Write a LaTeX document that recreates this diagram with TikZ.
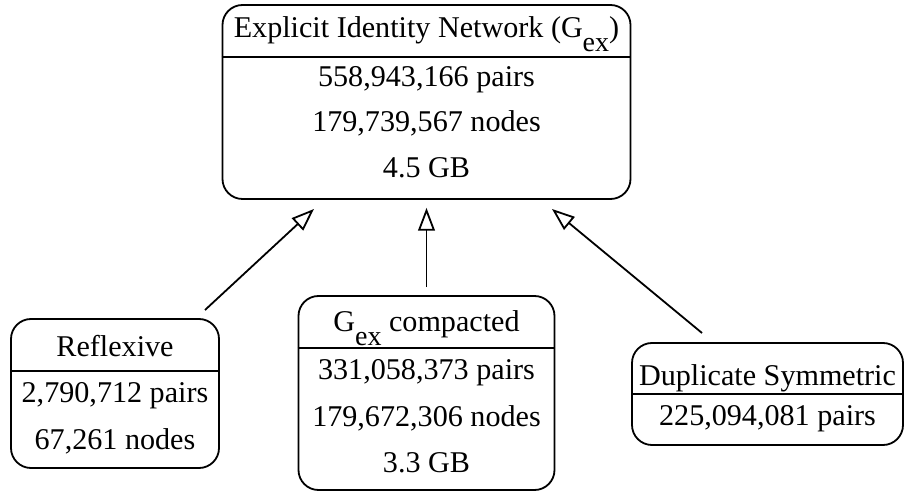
\documentclass[tikz,border=0pt]{standalone}
\usepackage{fontspec}
\IfFontExistsTF{LiberationSerif-Regular.ttf}
  {\newfontfamily\tnr{LiberationSerif-Regular.ttf}}
  {\newfontfamily\tnr{Liberation Serif}}
\usetikzlibrary{arrows.meta}

\newcommand{\subtxt}[1]{\raisebox{-10.5pt}{\fontsize{21}{21}\selectfont #1}}

\begin{document}
\begin{tikzpicture}[x=0.75pt, y=-0.75pt,
		tabla/.style = {draw, line width=1.35pt, rounded corners=15pt},
		texto/.style = {anchor=base, inner sep=0pt, font=\tnr\fontsize{22.6}{27}\selectfont},
		flecha/.style = {line width=1.35pt, -{Triangle[open, length=17pt, width=12.5pt]}}]
		\useasboundingbox (0,0) rectangle (904,491);
		
		\node[tabla, minimum width=306pt, minimum height=145.5pt] (Gex) at (426.5,102) {};
		\node[tabla, minimum width=156pt, minimum height=111.75pt] (Refl) at (115,393.5) {};
		\node[tabla, minimum width=192pt, minimum height=145.5pt] (Comp) at (426.5,393) {};
		\node[tabla, minimum width=203.25pt, minimum height=76.5pt] (Dup) at (767.5,394) {};
		
		\draw[line width=1.35pt] (Gex.west |- 0,57) -- (Gex.east |- 0,57);
		\draw[line width=1.35pt] (Refl.west |- 0,371) -- (Refl.east |- 0,371);
		\draw[line width=1.35pt] (Comp.west |- 0,348) -- (Comp.east |- 0,348);
		\draw[line width=1.35pt] (Dup.west |- 0,394) -- (Dup.east |- 0,394);
		
		\node[texto] (Gex-t) at (426.5,38) {Explicit Identity Network (G\subtxt{ex})};
		\node[texto] (Gex-1) at (426.5,87) {558,943,166 pairs};
		\node[texto] (Gex-2) at (426.5,132) {179,739,567 nodes};
		\node[texto] (Gex-3) at (426.5,178) {4.5 GB};
		
		\node[texto] (Refl-t) at (115,357) {Reflexive};
		\node[texto] (Refl-1) at (115,403) {2,790,712 pairs};
		\node[texto] (Refl-2) at (115,450) {67,261 nodes};
		
		\node[texto] (Comp-t) at (426.5,332) {G\subtxt{ex} compacted};
		\node[texto] (Comp-1) at (426.5,380) {331,058,373 pairs};
		\node[texto] (Comp-2) at (426.5,427) {179,672,306 nodes};
		\node[texto] (Comp-3) at (426.5,473) {3.3 GB};
		
		\node[texto] (Dup-t) at (767.5,386) {Duplicate Symmetric};
		\node[texto] (Dup-1) at (767.5,426) {225,094,081 pairs};
		
		\coordinate (Refl-out) at (205,310);
		\coordinate (Refl-in) at (314,209);
		\coordinate (Dup-out) at (702,333);
		\coordinate (Dup-in) at (552,209);
		
		\draw[flecha] (Refl-out) -- (Refl-in);
		\draw[flecha, shorten <=6pt, shorten >=6pt] (Comp) -- (Gex);
		\draw[flecha] (Dup-out) -- (Dup-in);
	\end{tikzpicture}
\end{document}
